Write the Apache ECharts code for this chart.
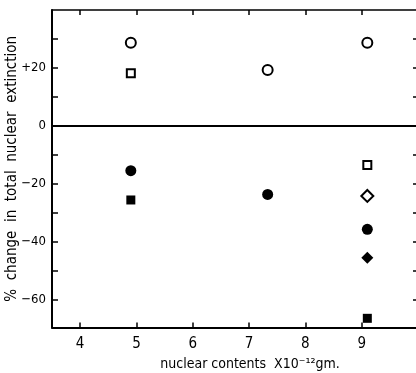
<!DOCTYPE html>
<html><head><meta charset="utf-8">
<script src="https://cdn.jsdelivr.net/npm/echarts@6/dist/echarts.min.js"></script>
<style>html,body{margin:0;padding:0;background:#fff}#c{width:416px;height:373px}</style>
</head><body><div id="c"></div>
<script>
var FONT = '"Liberation Sans Narrow","DejaVu Sans Condensed",sans-serif';
var xTicks = [4, 5, 6, 7, 8, 9];
var yMinorTicks = [-60, -50, -40, -30, -20, -10, 10, 20, 30];
var yLabels = [-60, -40, -20, 0, 20];
// [x, % change]
var openCircle = [[4.9, 28.7], [7.33, 19.3], [9.1, 28.7]];
var openSquare = [[4.9, 18.2], [9.1, -13.4]];
var openDiamond = [[9.1, -24.1]];
var filledCircle = [[4.9, -15.4], [7.33, -23.6], [9.1, -35.6]];
var filledSquare = [[4.9, -25.5], [9.1, -66.3]];
var filledDiamond = [[9.1, -45.4]];

function fmtY(v){ if (v > 0) return '+' + v; if (v < 0) return '\u2212' + (-v); return '0'; }

var chart = echarts.init(document.getElementById('c'));
function sc(data, symbol, size, filled){
  return {type:'scatter', data:data, symbol:symbol, symbolSize:size, xAxisIndex:0, yAxisIndex:0,
    itemStyle: filled ? {color:'#000', opacity:1} : {color:'#fff', borderColor:'#000', borderWidth:2, opacity:1},
    emphasis:{disabled:true}, z:5};
}
var axBase = {min:3.5, max:10, type:'value', splitLine:{show:false}};
chart.setOption({
  animation:false,
  grid:{left:52, right:-2, top:10, bottom:45.4, containLabel:false, outerBoundsMode:'none'},
  xAxis:[
    Object.assign({}, axBase, {position:'bottom',
      name:'nuclear contents  X10\u207B\u00B9\u00B2gm.', nameLocation:'middle', nameGap:30, nameMoveOverlap:false,
      nameTextStyle:{fontFamily:FONT, fontSize:14, color:'#000', padding:[0,0,0,30]},
      axisLine:{show:true, onZero:false, lineStyle:{color:'#000', width:2}},
      axisTick:{show:true, inside:true, length:5, customValues:xTicks, lineStyle:{color:'#000', width:1.5}},
      axisLabel:{customValues:xTicks, margin:9, fontFamily:FONT, fontSize:15, color:'#000'}}),
    Object.assign({}, axBase, {position:'top',
      axisLine:{show:true, onZero:false, lineStyle:{color:'#000', width:1.5}},
      axisTick:{show:true, inside:true, length:5, customValues:xTicks, lineStyle:{color:'#000', width:1.5}},
      axisLabel:{show:false}})
  ],
  yAxis:[
    {type:'value', min:-69.5, max:40, position:'left', splitLine:{show:false},
      name:'%  change  in  total  nuclear  extinction', nameLocation:'middle', nameGap:32, nameMoveOverlap:false,
      nameTextStyle:{fontFamily:FONT, fontSize:15, color:'#000'},
      axisLine:{show:true, onZero:false, lineStyle:{color:'#000', width:2}},
      axisTick:{show:true, inside:true, length:6, customValues:yMinorTicks, lineStyle:{color:'#000', width:1.5}},
      axisLabel:{customValues:yLabels, formatter:fmtY, margin:6, fontFamily:FONT, fontSize:13, color:'#000'}},
    {type:'value', min:-69.5, max:40, position:'right', splitLine:{show:false},
      axisLine:{show:true, onZero:false, lineStyle:{color:'#000', width:1.5}},
      axisTick:{show:true, inside:true, length:5, customValues:yMinorTicks, lineStyle:{color:'#000', width:1.5}},
      axisLabel:{show:false}}
  ],
  series:[
    {type:'line', data:[], xAxisIndex:0, yAxisIndex:0,
      markLine:{silent:true, symbol:['none','none'], label:{show:false},
        lineStyle:{color:'#000', width:2, type:'solid'}, data:[{yAxis:0}]}},
    sc(openCircle, 'circle', 10, false),
    sc(openSquare, 'rect', 8, false),
    sc(openDiamond, 'diamond', 12, false),
    sc(filledCircle, 'circle', 11, true),
    sc(filledSquare, 'rect', 9, true),
    sc(filledDiamond, 'diamond', 12, true)
  ]
});
</script></body></html>
